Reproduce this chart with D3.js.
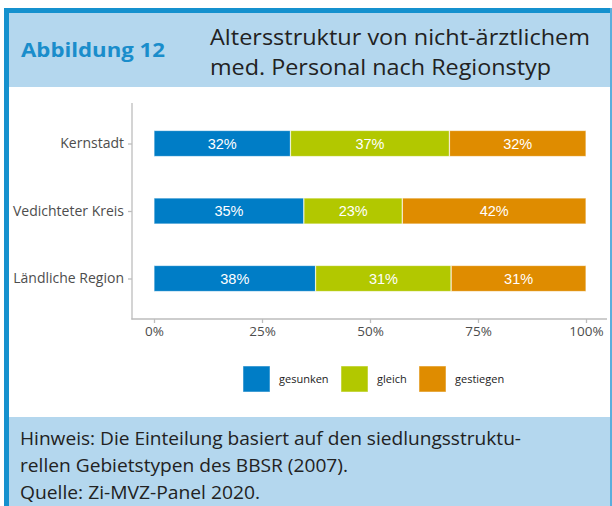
<!DOCTYPE html>
<html><head><meta charset="utf-8">
<script src="https://cdn.jsdelivr.net/npm/d3@7"></script>
<style>html,body{margin:0;padding:0;background:#fff;}svg{display:block;}</style>
</head><body>
<script>
const categories = ["Kernstadt", "Vedichteter Kreis", "Ländliche Region"];
const seriesNames = ["gesunken", "gleich", "gestiegen"];
const gesunken = [31.6, 34.7, 37.4];
const gleich = [36.8, 22.8, 31.4];
const gestiegen = [31.6, 42.5, 31.2];
const labels = [["32%","37%","32%"],["35%","23%","42%"],["38%","31%","31%"]];
const xTicks = [0, 25, 50, 75, 100];
const colors = ["#007DC6", "#B2C800", "#DF8C00"];
const titleLines = ["Altersstruktur von nicht-ärztlichem", "med. Personal nach Regionstyp"];
const footLines = ["Hinweis: Die Einteilung basiert auf den siedlungsstruktu-",
                   "rellen Gebietstypen des BBSR (2007).",
                   "Quelle: Zi-MVZ-Panel 2020."];

const W = 612, H = 506;
const svg = d3.select("body").append("svg").attr("width", W).attr("height", H);
const font = "'Open Sans', sans-serif";

// frame
svg.append("rect").attr("x", 4).attr("y", 8).attr("width", W - 4).attr("height", H - 8).attr("fill", "#1591CE");
svg.append("rect").attr("x", 9).attr("y", 13).attr("width", W - 11).attr("height", H - 13).attr("fill", "#fff");
svg.append("rect").attr("x", 9).attr("y", 13).attr("width", W - 11).attr("height", 74).attr("fill", "#B4D7EE");
svg.append("rect").attr("x", 9).attr("y", 417).attr("width", W - 11).attr("height", H - 417).attr("fill", "#B4D7EE");

// header
svg.append("text").attr("x", 21).attr("y", 57).attr("font-family", font).attr("font-weight", 700)
  .attr("font-size", 20).attr("fill", "#1A8DCB")
  .attr("textLength", 144).attr("lengthAdjust", "spacingAndGlyphs").text("Abbildung 12");
const titleLen = [380, 341];
titleLines.forEach((t, i) => {
  svg.append("text").attr("x", 210).attr("y", 45 + i * 30).attr("font-family", font).attr("font-size", 22)
    .attr("fill", "#222").attr("textLength", titleLen[i]).attr("lengthAdjust", "spacingAndGlyphs").text(t);
});

// scales
const x = d3.scaleLinear().domain([0, 100]).range([154, 586]);
const y = d3.scalePoint().domain(categories).range([103, 319]).padding(0.6);
const barH = 26;

const rows = categories.map((c, i) => {
  const vals = [gesunken[i], gleich[i], gestiegen[i]];
  let cum = 0;
  return vals.map((v, j) => { const s = {cat: c, x0: cum, x1: cum + v, j, label: labels[i][j]}; cum += v; return s; });
});

const g = svg.append("g");
rows.forEach(r => {
  r.forEach(s => {
    g.append("rect").attr("x", x(s.x0)).attr("y", y(s.cat) - barH / 2)
      .attr("width", x(s.x1) - x(s.x0)).attr("height", barH)
      .attr("fill", colors[s.j]).attr("stroke", "rgba(255,255,255,0.65)").attr("stroke-width", 1.2);
    g.append("text").attr("x", (x(s.x0) + x(s.x1)) / 2).attr("y", y(s.cat)).attr("dy", "0.36em")
      .attr("text-anchor", "middle").attr("font-family", "'Liberation Sans', Arial, sans-serif")
      .attr("font-size", 14.5).attr("fill", "#fff").text(s.label);
  });
});

// axes
const axisColor = "#BDBDBD";
const yAxis = svg.append("g").attr("transform", "translate(132,0)")
  .call(d3.axisLeft(y).tickSize(4).tickPadding(4));
const xAxis = svg.append("g").attr("transform", "translate(0,319)")
  .call(d3.axisBottom(x).tickValues(xTicks).tickFormat(d => d + "%").tickSize(4).tickPadding(3));
[yAxis, xAxis].forEach(a => {
  a.select(".domain").remove();
  a.selectAll(".tick line").attr("stroke", axisColor).attr("stroke-width", 1.3);
  a.selectAll("text").attr("font-family", font).attr("font-size", 13.5).attr("fill", "#4D4D4D");
});
yAxis.selectAll("text").attr("font-size", 14);
svg.append("line").attr("x1", 132).attr("x2", 132).attr("y1", 103).attr("y2", 319.6).attr("stroke", axisColor).attr("stroke-width", 1.3);
svg.append("line").attr("x1", 131.4).attr("x2", 607).attr("y1", 319).attr("y2", 319).attr("stroke", axisColor).attr("stroke-width", 1.3);

// legend
const legX = [243, 341, 419];
seriesNames.forEach((n, i) => {
  svg.append("rect").attr("x", legX[i]).attr("y", 366).attr("width", 27).attr("height", 26)
    .attr("fill", colors[i]).attr("stroke", "rgba(255,255,255,0.5)");
  svg.append("text").attr("x", legX[i] + 36).attr("y", 379).attr("dy", "0.36em")
    .attr("font-family", font).attr("font-size", 11).attr("fill", "#222").text(n);
});

// footer
const footLen = [501, 328, 240];
footLines.forEach((t, i) => {
  svg.append("text").attr("x", 20).attr("y", 445 + i * 27).attr("font-family", font)
    .attr("font-size", 18).attr("fill", "#222")
    .attr("textLength", footLen[i]).attr("lengthAdjust", "spacingAndGlyphs").text(t);
});

// right edge
svg.append("line").attr("x1", 611).attr("x2", 611).attr("y1", 8).attr("y2", H).attr("stroke", "#5AAEDC").attr("stroke-width", 2);
</script>
</body></html>
